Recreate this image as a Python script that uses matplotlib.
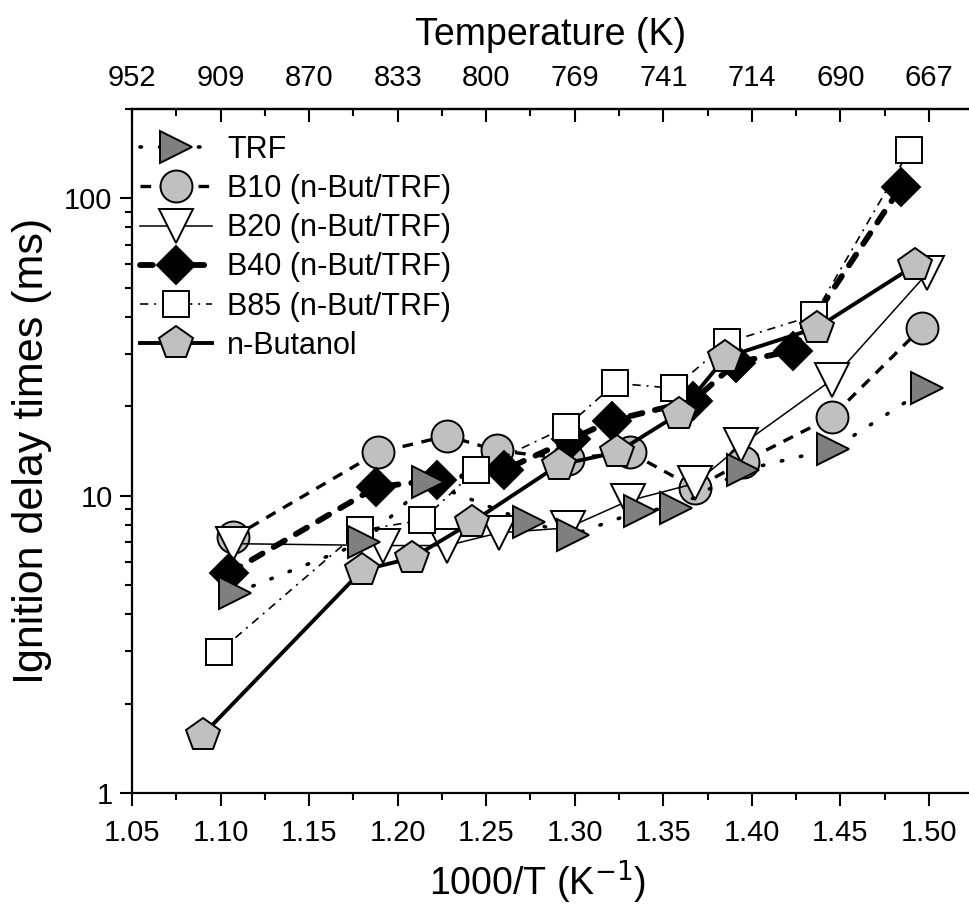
import numpy as np
import matplotlib.pyplot as plt
from matplotlib.ticker import MultipleLocator, NullFormatter, LogLocator

plt.rcParams['font.family'] = ['Liberation Sans', 'DejaVu Sans']

# Données : 1000/T (K^-1) et délai d'auto-inflammation (ms)
x_trf = [1.108, 1.181, 1.217, 1.274, 1.299, 1.337, 1.357, 1.395, 1.446, 1.499]
y_trf = [4.7, 7.0, 11.1, 8.15, 7.4, 8.9, 9.1, 12.2, 14.4, 23.0]

x_b10 = [1.107, 1.189, 1.228, 1.256, 1.296, 1.331, 1.368, 1.395, 1.445, 1.496]
y_b10 = [7.25, 14.0, 15.9, 14.2, 13.3, 14.0, 10.6, 13.0, 18.4, 36.8]

x_b20 = [1.107, 1.192, 1.228, 1.257, 1.296, 1.330, 1.368, 1.394, 1.445, 1.499]
y_b20 = [6.9, 6.8, 6.8, 7.5, 7.8, 9.6, 11.0, 14.8, 24.5, 56.0]

x_b40 = [1.105, 1.188, 1.222, 1.260, 1.298, 1.321, 1.367, 1.391, 1.423, 1.484]
y_b40 = [5.5, 10.7, 11.3, 12.2, 15.5, 17.9, 20.9, 28.0, 30.8, 109.0]

x_b85 = [1.099, 1.179, 1.214, 1.244, 1.295, 1.323, 1.356, 1.386, 1.435, 1.489]
y_b85 = [2.98, 7.66, 8.27, 12.2, 17.0, 23.9, 23.0, 32.8, 40.4, 145.0]

x_but = [1.090, 1.180, 1.208, 1.242, 1.291, 1.324, 1.359, 1.385, 1.437, 1.492]
y_but = [1.57, 5.62, 6.17, 8.15, 12.7, 14.0, 18.9, 29.2, 36.8, 59.5]

labels = ['TRF', 'B10 (n-But/TRF)', 'B20 (n-But/TRF)', 'B40 (n-But/TRF)',
          'B85 (n-But/TRF)', 'n-Butanol']

bottom_ticks = [1.05, 1.10, 1.15, 1.20, 1.25, 1.30, 1.35, 1.40, 1.45, 1.50]
top_labels = ['952', '909', '870', '833', '800', '769', '741', '714', '690', '667']

fig = plt.figure(figsize=(9.69, 9.15), dpi=100)
ax = fig.add_axes([0.1362, 0.1333, 0.8638, 0.7476])

# TRF : pointillés, triangles gris foncé
ax.plot(x_trf, y_trf, color='k', lw=2.6, ls=(0, (0.4, 5)), dash_capstyle='round',
        marker='>', ms=23, mfc='#7f7f7f', mec='k', mew=1.4, label=labels[0], zorder=8)
# B10 : tirets, cercles gris clair
ax.plot(x_b10, y_b10, color='k', lw=2.4, ls=(0, (3.2, 2.6)),
        marker='o', ms=23, mfc='#c0c0c0', mec='k', mew=1.4, label=labels[1], zorder=3)
# B20 : trait fin, triangles blancs
ax.plot(x_b20, y_b20, color='k', lw=1.1, ls='-',
        marker='v', ms=24, mfc='white', mec='k', mew=1.4, label=labels[2], zorder=4)
# B40 : gros tirets, losanges noirs
ax.plot(x_b40, y_b40, color='k', lw=4.2, ls=(0, (2.2, 2.2)), dash_capstyle='round',
        marker='D', ms=19, mfc='k', mec='k', mew=1.4, label=labels[3], zorder=5)
# B85 : tiret-point, carrés blancs
ax.plot(x_b85, y_b85, color='k', lw=1.2, ls=(0, (5, 3.5, 1.2, 3.5)),
        marker='s', ms=19, mfc='white', mec='k', mew=1.4, label=labels[4], zorder=6)
# n-Butanol : trait plein épais, pentagones gris
ax.plot(x_but, y_but, color='k', lw=2.8, ls='-',
        marker='p', ms=25, mfc='#c0c0c0', mec='k', mew=1.4, label=labels[5], zorder=7)

ax.set_yscale('log')
ax.set_ylim(1, 200)
ax.set_xlim(1.05, 1.5226)
ax.set_yticks([1, 10, 100], labels=['1', '10', '100'])
ax.yaxis.set_minor_locator(LogLocator(base=10, subs=np.arange(2, 10)))
ax.yaxis.set_minor_formatter(NullFormatter())
ax.set_xticks(bottom_ticks, labels=[f'{t:.2f}' for t in bottom_ticks])
ax.xaxis.set_minor_locator(MultipleLocator(0.025))

ax.tick_params(which='both', direction='out', width=1.5, labelsize=21, top=False, right=False)
ax.tick_params(axis='x', which='major', pad=10)
ax.tick_params(axis='y', which='major', pad=5)
ax.tick_params(which='major', length=9)
ax.tick_params(which='minor', length=5)
for side in ['left', 'bottom', 'top']:
    ax.spines[side].set_linewidth(1.6)
ax.spines['right'].set_visible(False)

ax.set_xlabel('1000/T (K$^{-1}$)', fontsize=27, labelpad=8)
ax.xaxis.label.set_x(0.484)
ax.set_ylabel('Ignition delay times (ms)', fontsize=31, labelpad=9)

# Axe du haut : température
sec = ax.secondary_xaxis('top')
sec.set_xticks(bottom_ticks, labels=top_labels)
sec.xaxis.set_minor_locator(MultipleLocator(0.025))
sec.tick_params(which='both', direction='in', width=1.5, labelsize=21, pad=12)
sec.tick_params(which='major', length=9)
sec.tick_params(which='minor', length=5)
sec.spines['top'].set_linewidth(1.6)
sec.set_xlabel('Temperature (K)', fontsize=27, labelpad=14)

ax.legend(loc='upper left', bbox_to_anchor=(0.01, 0.962), frameon=False, fontsize=22,
          handlelength=2.35, handletextpad=0.5, labelspacing=0.3,
          borderaxespad=0, borderpad=0)

fig.savefig('out.png', dpi=100)
